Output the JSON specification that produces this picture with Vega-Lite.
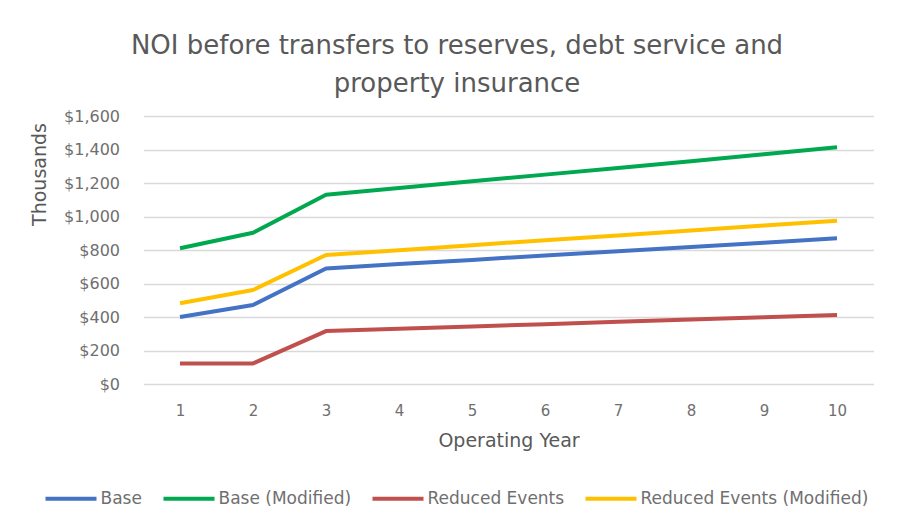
{
  "$schema": "https://vega.github.io/schema/vega-lite/v6.json",
  "autosize": {"type": "none"},
  "width": 730,
  "height": 268,
  "padding": {"left": 143.5, "top": 116, "right": 28.5, "bottom": 129},
  "background": "white",
  "title": {
    "text": ["NOI before transfers to reserves, debt service and", "property insurance"],
    "font": "DejaVu Sans",
    "fontSize": 26,
    "fontWeight": "normal",
    "color": "#595959",
    "anchor": "middle",
    "dx": -51.5,
    "lineHeight": 38,
    "offset": 11
  },
  "data": {
    "values": [
      {"year": 1, "scenario": "Base", "noi": 400},
      {"year": 2, "scenario": "Base", "noi": 472},
      {"year": 3, "scenario": "Base", "noi": 690},
      {"year": 4, "scenario": "Base", "noi": 716},
      {"year": 5, "scenario": "Base", "noi": 741},
      {"year": 6, "scenario": "Base", "noi": 767},
      {"year": 7, "scenario": "Base", "noi": 793},
      {"year": 8, "scenario": "Base", "noi": 818},
      {"year": 9, "scenario": "Base", "noi": 844},
      {"year": 10, "scenario": "Base", "noi": 870},
      {"year": 1, "scenario": "Base (Modified)", "noi": 810},
      {"year": 2, "scenario": "Base (Modified)", "noi": 903},
      {"year": 3, "scenario": "Base (Modified)", "noi": 1130},
      {"year": 4, "scenario": "Base (Modified)", "noi": 1170},
      {"year": 5, "scenario": "Base (Modified)", "noi": 1210},
      {"year": 6, "scenario": "Base (Modified)", "noi": 1250},
      {"year": 7, "scenario": "Base (Modified)", "noi": 1290},
      {"year": 8, "scenario": "Base (Modified)", "noi": 1330},
      {"year": 9, "scenario": "Base (Modified)", "noi": 1372},
      {"year": 10, "scenario": "Base (Modified)", "noi": 1413},
      {"year": 1, "scenario": "Reduced Events", "noi": 123},
      {"year": 2, "scenario": "Reduced Events", "noi": 123},
      {"year": 3, "scenario": "Reduced Events", "noi": 316},
      {"year": 4, "scenario": "Reduced Events", "noi": 330},
      {"year": 5, "scenario": "Reduced Events", "noi": 344},
      {"year": 6, "scenario": "Reduced Events", "noi": 357},
      {"year": 7, "scenario": "Reduced Events", "noi": 371},
      {"year": 8, "scenario": "Reduced Events", "noi": 385},
      {"year": 9, "scenario": "Reduced Events", "noi": 398},
      {"year": 10, "scenario": "Reduced Events", "noi": 412},
      {"year": 1, "scenario": "Reduced Events (Modified)", "noi": 482},
      {"year": 2, "scenario": "Reduced Events (Modified)", "noi": 561},
      {"year": 3, "scenario": "Reduced Events (Modified)", "noi": 770},
      {"year": 4, "scenario": "Reduced Events (Modified)", "noi": 799},
      {"year": 5, "scenario": "Reduced Events (Modified)", "noi": 829},
      {"year": 6, "scenario": "Reduced Events (Modified)", "noi": 858},
      {"year": 7, "scenario": "Reduced Events (Modified)", "noi": 887},
      {"year": 8, "scenario": "Reduced Events (Modified)", "noi": 916},
      {"year": 9, "scenario": "Reduced Events (Modified)", "noi": 946},
      {"year": 10, "scenario": "Reduced Events (Modified)", "noi": 975}
    ]
  },
  "mark": {"type": "line", "strokeWidth": 4, "strokeJoin": "round", "strokeCap": "butt"},
  "encoding": {
    "x": {
      "field": "year",
      "type": "ordinal",
      "scale": {"paddingInner": 0, "paddingOuter": 0.5},
      "axis": {
        "title": "Operating Year",
        "labelAngle": 0,
        "domain": false,
        "ticks": false,
        "grid": false,
        "labelFont": "DejaVu Sans",
        "labelFontSize": 15,
        "labelColor": "#6f6f6f",
        "labelPadding": 19,
        "titleFont": "DejaVu Sans",
        "titleFontSize": 19,
        "titleFontWeight": "normal",
        "titleColor": "#595959",
        "titlePadding": 13
      }
    },
    "y": {
      "field": "noi",
      "type": "quantitative",
      "scale": {"domain": [0, 1600], "nice": false},
      "axis": {
        "title": "Thousands",
        "values": [0, 200, 400, 600, 800, 1000, 1200, 1400, 1600],
        "format": "$,.0f",
        "domain": false,
        "ticks": false,
        "gridColor": "#d9d9d9",
        "gridWidth": 1.5,
        "labelFont": "DejaVu Sans",
        "labelFontSize": 16,
        "labelColor": "#6f6f6f",
        "labelPadding": 24,
        "titleFont": "DejaVu Sans",
        "titleFontSize": 19,
        "titleFontWeight": "normal",
        "titleColor": "#595959",
        "titleAngle": 270,
        "titleAlign": "center",
        "titleBaseline": "middle",
        "titleX": -104,
        "titleY": 58
      }
    },
    "color": {
      "field": "scenario",
      "type": "nominal",
      "scale": {
        "domain": ["Base", "Base (Modified)", "Reduced Events", "Reduced Events (Modified)"],
        "range": ["#4472C4", "#00A84F", "#C0504D", "#FFC000"]
      },
      "legend": {
        "title": null,
        "orient": "none",
        "direction": "horizontal",
        "columns": 4,
        "legendX": -100,
        "legendY": 355,
        "symbolType": "stroke",
        "symbolSize": 2601,
        "symbolStrokeWidth": 4,
        "labelOffset": 2,
        "columnPadding": 13,
        "labelFont": "DejaVu Sans",
        "labelFontSize": 17,
        "labelColor": "#6f6f6f",
        "labelLimit": 400
      }
    }
  },
  "config": {
    "view": {"stroke": null}
  }
}
